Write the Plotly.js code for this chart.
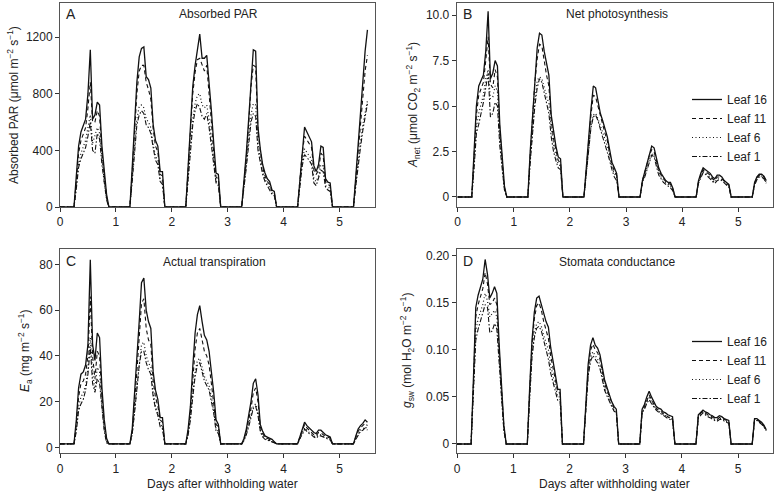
<!DOCTYPE html>
<html>
<head>
<meta charset="utf-8">
<script src="https://cdn.plot.ly/plotly-3.0.1.min.js"></script>
<style>html,body{margin:0;padding:0;background:#fff;}#chart{width:777px;height:492px;}</style>
</head>
<body>
<div id="chart"></div>
<script>
// Time (days after withholding water), hourly during daylight 06:00-21:00
const days = [0,
 0.25,0.292,0.333,0.375,0.417,0.458,0.5,0.542,0.583,0.625,0.667,0.708,0.75,0.792,0.833,0.875,
 1.25,1.292,1.333,1.375,1.417,1.458,1.5,1.542,1.583,1.625,1.667,1.708,1.75,1.792,1.833,1.875,
 2.25,2.292,2.333,2.375,2.417,2.458,2.5,2.542,2.583,2.625,2.667,2.708,2.75,2.792,2.833,2.875,
 3.25,3.292,3.333,3.375,3.417,3.458,3.5,3.542,3.583,3.625,3.667,3.708,3.75,3.792,3.833,3.875,
 4.25,4.292,4.333,4.375,4.417,4.458,4.5,4.542,4.583,4.625,4.667,4.708,4.75,4.792,4.833,4.875,
 5.25,5.292,5.333,5.375,5.417,5.458,5.5];

const leafNames = ["Leaf 16","Leaf 11","Leaf 6","Leaf 1"];

// A: Absorbed PAR
const parLeaf16 = [0,
 0,220,430,530,580,620,800,1110,620,650,740,720,430,250,90,0,
 0,280,600,880,1060,1120,1130,920,900,840,580,470,430,250,250,0,
 0,300,600,850,1000,1100,1220,1050,1050,1070,900,680,450,240,230,0,
 0,180,380,620,900,1110,1100,560,410,300,240,200,180,120,110,0,
 0,200,420,565,530,490,460,290,250,300,430,420,200,175,170,0,
 0,220,450,650,880,1100,1250];
const parLeaf11 = [0,
 0,180,380,470,520,560,700,880,600,600,680,640,380,220,70,0,
 0,250,550,800,960,1000,1000,880,830,760,550,430,390,230,220,0,
 0,270,560,800,950,1040,1050,1000,960,1000,820,600,380,210,200,0,
 0,160,350,580,850,1000,990,520,380,280,220,180,160,110,100,0,
 0,180,380,500,470,450,420,260,230,260,380,360,180,160,150,0,
 0,200,400,580,780,960,1070];
const parLeaf6 = [0,
 0,150,300,380,420,470,560,650,450,500,560,520,330,180,60,0,
 0,200,440,620,710,720,700,620,600,560,440,360,330,200,180,0,
 0,220,450,620,730,790,800,720,700,720,620,480,320,180,170,0,
 0,140,300,480,650,730,720,440,330,250,200,160,140,100,90,0,
 0,150,320,410,380,360,340,200,180,220,300,290,150,140,130,0,
 0,160,320,460,580,680,750];
const parLeaf1 = [0,
 0,130,280,340,380,420,500,600,400,380,520,480,300,160,50,0,
 0,180,400,580,650,680,660,580,560,520,420,330,300,180,160,0,
 0,200,420,580,680,730,700,640,620,660,560,430,300,170,150,0,
 0,130,280,440,600,660,640,400,300,230,180,150,130,90,80,0,
 0,140,290,370,350,330,300,170,150,200,260,250,140,120,110,0,
 0,150,300,420,540,640,730];

// B: Net photosynthesis
const anetLeaf16 = [0,
 0,2.5,5.0,6.1,6.4,6.7,8.0,10.2,6.5,6.8,7.5,7.2,4.0,2.0,0.6,0,
 0,2.5,4.5,6.8,8.2,9.0,8.9,8.0,7.3,6.7,4.5,3.5,2.8,2.2,2.1,0,
 0,1.6,3.3,4.8,6.1,6.0,5.3,4.6,4.2,3.7,3.3,2.6,1.9,1.6,1.3,0,
 0,0.9,1.4,1.9,2.4,2.8,2.7,2.1,1.6,1.3,1.1,0.9,0.8,0.8,0.5,0,
 0,0.9,1.3,1.6,1.5,1.4,1.3,1.1,1.0,1.2,1.2,1.1,0.9,0.8,0.7,0,
 0,0.8,1.1,1.25,1.25,1.15,0.9];
const anetLeaf11 = [0,
 0,2.2,4.5,5.6,6.0,6.3,7.5,8.8,6.2,6.0,7.0,6.6,3.6,1.8,0.5,0,
 0,2.3,4.2,6.3,7.6,8.4,8.3,7.4,6.7,6.1,4.2,3.2,2.5,2.0,1.9,0,
 0,1.5,3.1,4.5,5.6,5.5,5.0,4.4,4.0,3.5,3.1,2.4,1.8,1.4,1.2,0,
 0,0.9,1.3,1.8,2.3,2.6,2.5,2.0,1.5,1.2,1.0,0.85,0.75,0.7,0.45,0,
 0,0.85,1.2,1.5,1.4,1.3,1.2,1.0,0.9,1.1,1.1,1.0,0.85,0.75,0.65,0,
 0,0.75,1.05,1.2,1.2,1.1,0.85];
const anetLeaf6 = [0,
 0,1.8,3.8,4.6,5.2,5.6,6.5,7.0,5.4,5.5,6.1,5.8,3.2,1.6,0.4,0,
 0,2.0,3.8,5.3,6.4,6.6,6.5,6.0,5.6,5.1,3.8,2.9,2.3,1.8,1.7,0,
 0,1.4,2.8,3.9,4.5,4.6,4.3,3.9,3.5,3.1,2.8,2.2,1.6,1.3,1.1,0,
 0,0.8,1.2,1.6,2.1,2.4,2.3,1.8,1.4,1.1,0.9,0.8,0.7,0.6,0.4,0,
 0,0.8,1.1,1.4,1.3,1.2,1.1,0.9,0.8,1.0,1.0,0.95,0.8,0.7,0.6,0,
 0,0.7,1.0,1.15,1.15,1.05,0.8];
const anetLeaf1 = [0,
 0,1.6,3.5,4.0,4.6,5.2,6.0,6.8,4.4,4.6,5.2,5.0,2.8,1.4,0.4,0,
 0,1.9,3.6,5.0,6.0,6.5,6.3,5.7,5.2,4.6,3.3,2.5,2.0,1.6,1.5,0,
 0,1.3,2.7,3.8,4.4,4.5,4.2,3.7,3.3,2.9,2.5,2.0,1.5,1.1,0.9,0,
 0,0.8,1.1,1.5,2.0,2.3,2.2,1.7,1.2,1.0,0.8,0.7,0.6,0.5,0.35,0,
 0,0.75,1.05,1.35,1.25,1.15,1.0,0.85,0.75,0.9,0.95,0.9,0.75,0.65,0.55,0,
 0,0.65,0.95,1.1,1.1,1.0,0.75];

// C: Actual transpiration
const eaLeaf16 = [1.5,
 1.5,12,26,32,33,36,45,82,45,38,50,48,26,12,4,1.5,
 1.5,8,22,38,55,72,74,60,55,52,33,25,21,13,13,1.5,
 1.5,8,18,35,50,58,62,55,49,47,42,33,24,12,10,1.5,
 1.5,4,8,14,20,28,30,23,10,7,5,4.5,4,3.5,2.5,1.5,
 1.5,5,8,11,9.5,8.5,7.5,6.5,6,7.5,7.5,6.5,5.5,5,4.5,1.5,
 1.5,5,8,9.5,10.5,12,11];
const eaLeaf11 = [1.5,
 1.5,10,22,28,29,32,40,66,40,30,42,40,22,10,3,1.5,
 1.5,7,19,33,48,63,65,52,47,45,29,22,18,12,11,1.5,
 1.5,7,15,30,43,50,52,47,42,40,36,28,20,10,9,1.5,
 1.5,3.5,7,12,17,24,26,20,9,6,4.5,4,3.5,3,2.2,1.5,
 1.5,4.5,7,10,8.5,7.5,6.5,5.5,5,6.5,6.5,5.5,5,4.5,4,1.5,
 1.5,4.5,7,8.5,9.5,10.5,9.5];
const eaLeaf6 = [1.5,
 1.5,8,18,22,24,27,34,48,33,25,35,33,18,8,2.5,1.5,
 1.5,6,16,27,38,45,46,40,37,35,24,18,15,10,9,1.5,
 1.5,6,13,24,33,38,39,35,31,29,27,22,16,8,7,1.5,
 1.5,3,6,10,14,18,19,15,7.5,5,4,3.5,3,2.5,2,1.5,
 1.5,4,6,8.5,7.5,6.5,6,5,4.5,5.5,5.5,5,4.5,4,3.5,1.5,
 1.5,4,6,7.5,8,9,8];
const eaLeaf1 = [1.5,
 1.5,7,16,19,21,25,32,44,28,24,30,28,16,7,2,1.5,
 1.5,6,15,25,36,42,42,37,34,32,22,17,14,9,8,1.5,
 1.5,5.5,12,22,31,36,37,33,29,27,25,20,15,7,6,1.5,
 1.5,3,5.5,9,13,17,18,14,7,4.5,3.5,3,2.8,2.4,2,1.5,
 1.5,4,5.5,8,7,6,5.5,4.5,4,5,5,4.5,4,3.8,3.2,1.5,
 1.5,3.5,5.5,7,7.5,8.5,7.5];

// D: Stomata conductance
const gswLeaf16 = [0,
 0,0.07,0.145,0.158,0.167,0.175,0.196,0.18,0.155,0.16,0.167,0.16,0.105,0.06,0.02,0,
 0,0.06,0.11,0.14,0.155,0.157,0.148,0.137,0.13,0.124,0.102,0.088,0.075,0.058,0.058,0,
 0,0.05,0.085,0.105,0.113,0.105,0.102,0.095,0.08,0.068,0.06,0.052,0.045,0.04,0.037,0,
 0,0.037,0.042,0.05,0.056,0.05,0.044,0.04,0.038,0.037,0.034,0.033,0.031,0.03,0.029,0,
 0,0.031,0.034,0.036,0.034,0.033,0.031,0.03,0.028,0.028,0.03,0.029,0.027,0.026,0.025,0,
 0,0.027,0.027,0.025,0.023,0.02,0.015];
const gswLeaf11 = [0,
 0,0.065,0.135,0.148,0.158,0.165,0.182,0.17,0.148,0.15,0.155,0.148,0.098,0.055,0.018,0,
 0,0.057,0.105,0.133,0.147,0.15,0.142,0.13,0.12,0.112,0.093,0.08,0.07,0.055,0.054,0,
 0,0.048,0.08,0.1,0.106,0.1,0.097,0.09,0.076,0.064,0.057,0.05,0.043,0.038,0.035,0,
 0,0.035,0.04,0.047,0.052,0.047,0.042,0.038,0.036,0.035,0.032,0.031,0.029,0.028,0.027,0,
 0,0.03,0.033,0.035,0.033,0.031,0.03,0.028,0.027,0.026,0.028,0.028,0.026,0.025,0.024,0,
 0,0.026,0.026,0.024,0.022,0.019,0.015];
const gswLeaf6 = [0,
 0,0.06,0.12,0.133,0.142,0.148,0.16,0.152,0.135,0.138,0.142,0.135,0.09,0.05,0.016,0,
 0,0.052,0.095,0.118,0.128,0.13,0.125,0.115,0.108,0.1,0.083,0.072,0.063,0.05,0.05,0,
 0,0.045,0.075,0.092,0.098,0.094,0.09,0.084,0.072,0.06,0.054,0.047,0.041,0.036,0.034,0,
 0,0.034,0.038,0.045,0.049,0.045,0.04,0.037,0.035,0.033,0.031,0.03,0.028,0.027,0.026,0,
 0,0.029,0.032,0.034,0.032,0.03,0.029,0.027,0.026,0.025,0.027,0.027,0.025,0.024,0.023,0,
 0,0.026,0.026,0.024,0.022,0.019,0.015];
const gswLeaf1 = [0,
 0,0.055,0.11,0.122,0.13,0.138,0.148,0.145,0.118,0.12,0.128,0.122,0.082,0.045,0.014,0,
 0,0.05,0.092,0.113,0.123,0.125,0.12,0.11,0.1,0.09,0.075,0.065,0.057,0.046,0.045,0,
 0,0.043,0.072,0.088,0.094,0.09,0.086,0.08,0.068,0.057,0.051,0.045,0.04,0.035,0.033,0,
 0,0.033,0.037,0.043,0.047,0.043,0.039,0.036,0.034,0.032,0.03,0.029,0.027,0.026,0.025,0,
 0,0.028,0.031,0.033,0.031,0.029,0.028,0.026,0.025,0.024,0.026,0.026,0.024,0.023,0.022,0,
 0,0.025,0.025,0.023,0.021,0.018,0.014];

const xTickVals = [0,1,2,3,4,5];
const parTicks = [0,400,800,1200];
const anetTicks = [0,2.5,5,7.5,10];
const anetTickText = ["0","2.5","5.0","7.5","10.0"];
const eaTicks = [0,20,40,60,80];
const gswTicks = [0,0.05,0.1,0.15,0.2];
const gswTickText = ["0","0.05","0.10","0.15","0.20"];

const styles = [
  {dash:"solid", width:1.3},
  {dash:"4px,3px", width:1.1},
  {dash:"1px,2.5px", width:1.2},
  {dash:"5px,2px,1.5px,2px", width:1.1}
];

const panels = [
  {xa:"x", ya:"y", series:[parLeaf16,parLeaf11,parLeaf6,parLeaf1], legend:null},
  {xa:"x2", ya:"y2", series:[anetLeaf16,anetLeaf11,anetLeaf6,anetLeaf1], legend:"legend"},
  {xa:"x3", ya:"y3", series:[eaLeaf16,eaLeaf11,eaLeaf6,eaLeaf1], legend:null},
  {xa:"x4", ya:"y4", series:[gswLeaf16,gswLeaf11,gswLeaf6,gswLeaf1], legend:"legend2"}
];

const traces = [];
panels.forEach(p => {
  // draw Leaf 1 first so Leaf 16 is on top, but keep legend order
  for (let i = 3; i >= 0; i--) {
    const t = {
      type:"scatter", mode:"lines", x:days, y:p.series[i], name:leafNames[i],
      xaxis:p.xa, yaxis:p.ya,
      line:{color:"#111", width:styles[i].width, dash:styles[i].dash},
      showlegend: p.legend !== null, legendrank: i + 1, hoverinfo:"skip"
    };
    if (p.legend) t.legend = p.legend;
    traces.push(t);
  }
});

const W = 777, H = 492;
const colL = [60/W, 375/W], colR = [456.7/W, 773/W];
const rowT = [1-207/H, 1-3/H], rowB = [1-453.3/H, 1-249.3/H];
const font = {family:"Liberation Sans, Arial, sans-serif", size:12, color:"#222"};

function xax(dom, anchor, range, showTitle) {
  return {domain:dom, anchor:anchor, range:range, tickvals:xTickVals, ticks:"outside", ticklen:4,
    tickcolor:"#333", showline:true, mirror:true, linecolor:"#555", linewidth:1, zeroline:false,
    showgrid:false, tickfont:{size:12, color:"#222"}};
}
function yax(dom, anchor, range, tv, tt) {
  const a = {domain:dom, anchor:anchor, range:range, tickvals:tv, ticks:"outside", ticklen:4,
    tickcolor:"#333", showline:true, mirror:true, linecolor:"#555", linewidth:1, zeroline:false,
    showgrid:false, tickfont:{size:12, color:"#222"}};
  if (tt) a.ticktext = tt;
  return a;
}

const ann = [];
function txt(x, y, text, opts) {
  ann.push(Object.assign({xref:"paper", yref:"paper", x:x/W, y:1-y/H, text:text, showarrow:false,
    xanchor:"center", yanchor:"middle", font:{size:12, color:"#222"}}, opts||{}));
}
// panel letters
txt(64, 14, "A", {xanchor:"left", font:{size:14, color:"#222"}});
txt(461, 14, "B", {xanchor:"left", font:{size:14, color:"#222"}});
txt(64, 261, "C", {xanchor:"left", font:{size:14, color:"#222"}});
txt(461, 261, "D", {xanchor:"left", font:{size:14, color:"#222"}});
// panel titles
txt(218, 14, "Absorbed PAR");
txt(617, 14, "Net photosynthesis");
txt(214, 262, "Actual transpiration");
txt(617, 262, "Stomata conductance");
// y titles
txt(13, 105, "Absorbed PAR (μmol m<sup>−2</sup> s<sup>−1</sup>)", {textangle:-90});
txt(413, 105, "<i>A</i><sub>net</sub> (μmol CO<sub>2</sub> m<sup>−2</sup> s<sup>−1</sup>)", {textangle:-90});
txt(25, 351, "<i>E</i><sub>a</sub> (mg m<sup>−2</sup> s<sup>−1</sup>)", {textangle:-90});
txt(407, 351, "<i>g</i><sub>sw</sub> (mol H<sub>2</sub>O m<sup>−2</sup> s<sup>−1</sup>)", {textangle:-90});
// x titles
txt(222, 484, "Days after withholding water");
txt(614, 484, "Days after withholding water");

const layout = {
  width:W, height:H, margin:{l:0,r:0,t:0,b:0}, paper_bgcolor:"#fff", plot_bgcolor:"#fff",
  font:font, showlegend:true,
  xaxis: xax(colL, "y", [0,5.635]),
  yaxis: yax(rowT, "x", [0,1440], parTicks),
  xaxis2: xax(colR, "y2", [-0.018,5.62]),
  yaxis2: yax(rowT, "x2", [-0.55,10.66], anetTicks, anetTickText),
  xaxis3: xax(colL, "y3", [0,5.635]),
  yaxis3: yax(rowB, "x3", [-2.6,86.6], eaTicks),
  xaxis4: xax(colR, "y4", [-0.006,5.62]),
  yaxis4: yax(rowB, "x4", [-0.0099,0.2068], gswTicks, gswTickText),
  legend: {x:687/W, y:1-128/H, xanchor:"left", yanchor:"middle", bgcolor:"rgba(0,0,0,0)",
    font:{size:12,color:"#222"}, itemwidth:30, tracegroupgap:0, traceorder:"normal"},
  legend2: {x:687/W, y:1-370/H, xanchor:"left", yanchor:"middle", bgcolor:"rgba(0,0,0,0)",
    font:{size:12,color:"#222"}, itemwidth:30, tracegroupgap:0, traceorder:"normal"},
  annotations: ann
};

Plotly.newPlot("chart", traces, layout, {staticPlot:true, displayModeBar:false});
</script>
</body>
</html>
